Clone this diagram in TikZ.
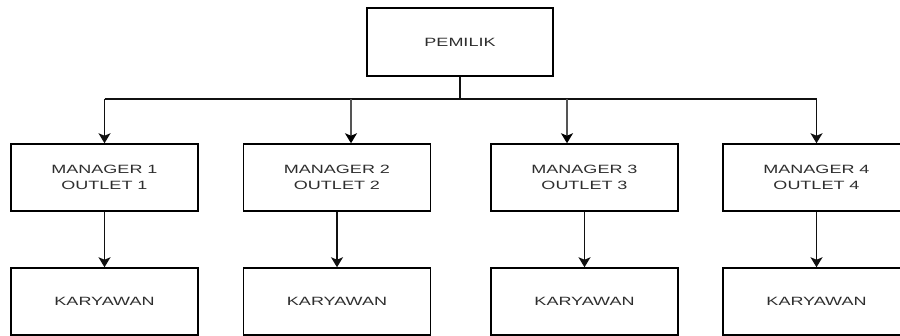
\documentclass[tikz,border=0pt]{standalone}
\usepackage{fontspec}
\usepackage{graphicx}
\setmainfont{Liberation Sans}
\usetikzlibrary{arrows.meta,calc}
\definecolor{txt}{HTML}{2E2E2E}
\definecolor{lnk}{HTML}{111111}
\definecolor{lnkgray}{HTML}{555555}
\newcommand{\wide}[1]{\scalebox{1.5}[1]{#1}}
\tikzset{
  box/.style={draw=black, line width=1.5pt, fill=white, inner sep=0pt,
    text=txt, font=\fontsize{12}{16}\selectfont, align=center},
  topbox/.style={box, minimum width=186pt, minimum height=68pt},
  mgrbox/.style={box, minimum width=187pt, minimum height=67pt},
  conn/.style={draw=lnk, line width=1.5pt},
  arr/.style={conn, -{Stealth[length=10pt,width=12pt,inset=2.5pt]}},
  arrgray/.style={arr, draw=lnkgray, -{Stealth[length=10pt,width=12pt,inset=2.5pt,color=black]}}
}
\begin{document}
\begin{tikzpicture}[x=1pt,y=-1pt]
\useasboundingbox (0,0) rectangle (900,336);
\node[topbox] (pem) at (460,42) {\wide{PEMILIK}};
\node[mgrbox] (m1) at (104.5,177.5) {\wide{MANAGER 1}\\\wide{OUTLET 1}};
\node[mgrbox] (m2) at (337,177.5) {\wide{MANAGER 2}\\\wide{OUTLET 2}};
\node[mgrbox] (m3) at (584.5,177.5) {\wide{MANAGER 3}\\\wide{OUTLET 3}};
\node[mgrbox] (m4) at (816.5,177.5) {\wide{MANAGER 4}\\\wide{OUTLET 4}};
\node[mgrbox] (k1) at (104.5,301.5) {\wide{KARYAWAN}};
\node[mgrbox] (k2) at (337,301.5) {\wide{KARYAWAN}};
\node[mgrbox] (k3) at (584.5,301.5) {\wide{KARYAWAN}};
\node[mgrbox] (k4) at (816.5,301.5) {\wide{KARYAWAN}};
\coordinate (j) at (460,99);
\coordinate (t2) at ($(m2.north)+(14,0)$);
\coordinate (t3) at ($(m3.north)+(-17.5,0)$);
\draw[conn] (pem.south) -- (j);
\draw[conn] (j -| m1.north) -- (j -| m4.north);
\draw[arr] (j -| m1.north) -- (m1.north);
\draw[arrgray] (j -| t2) -- (t2);
\draw[arrgray] (j -| t3) -- (t3);
\draw[arr] (j -| m4.north) -- (m4.north);
\draw[arr] (m1.south) -- (k1.north);
\draw[arr] (m2.south) -- (k2.north);
\draw[arr] (m3.south) -- (k3.north);
\draw[arr] (m4.south) -- (k4.north);
\end{tikzpicture}
\end{document}
